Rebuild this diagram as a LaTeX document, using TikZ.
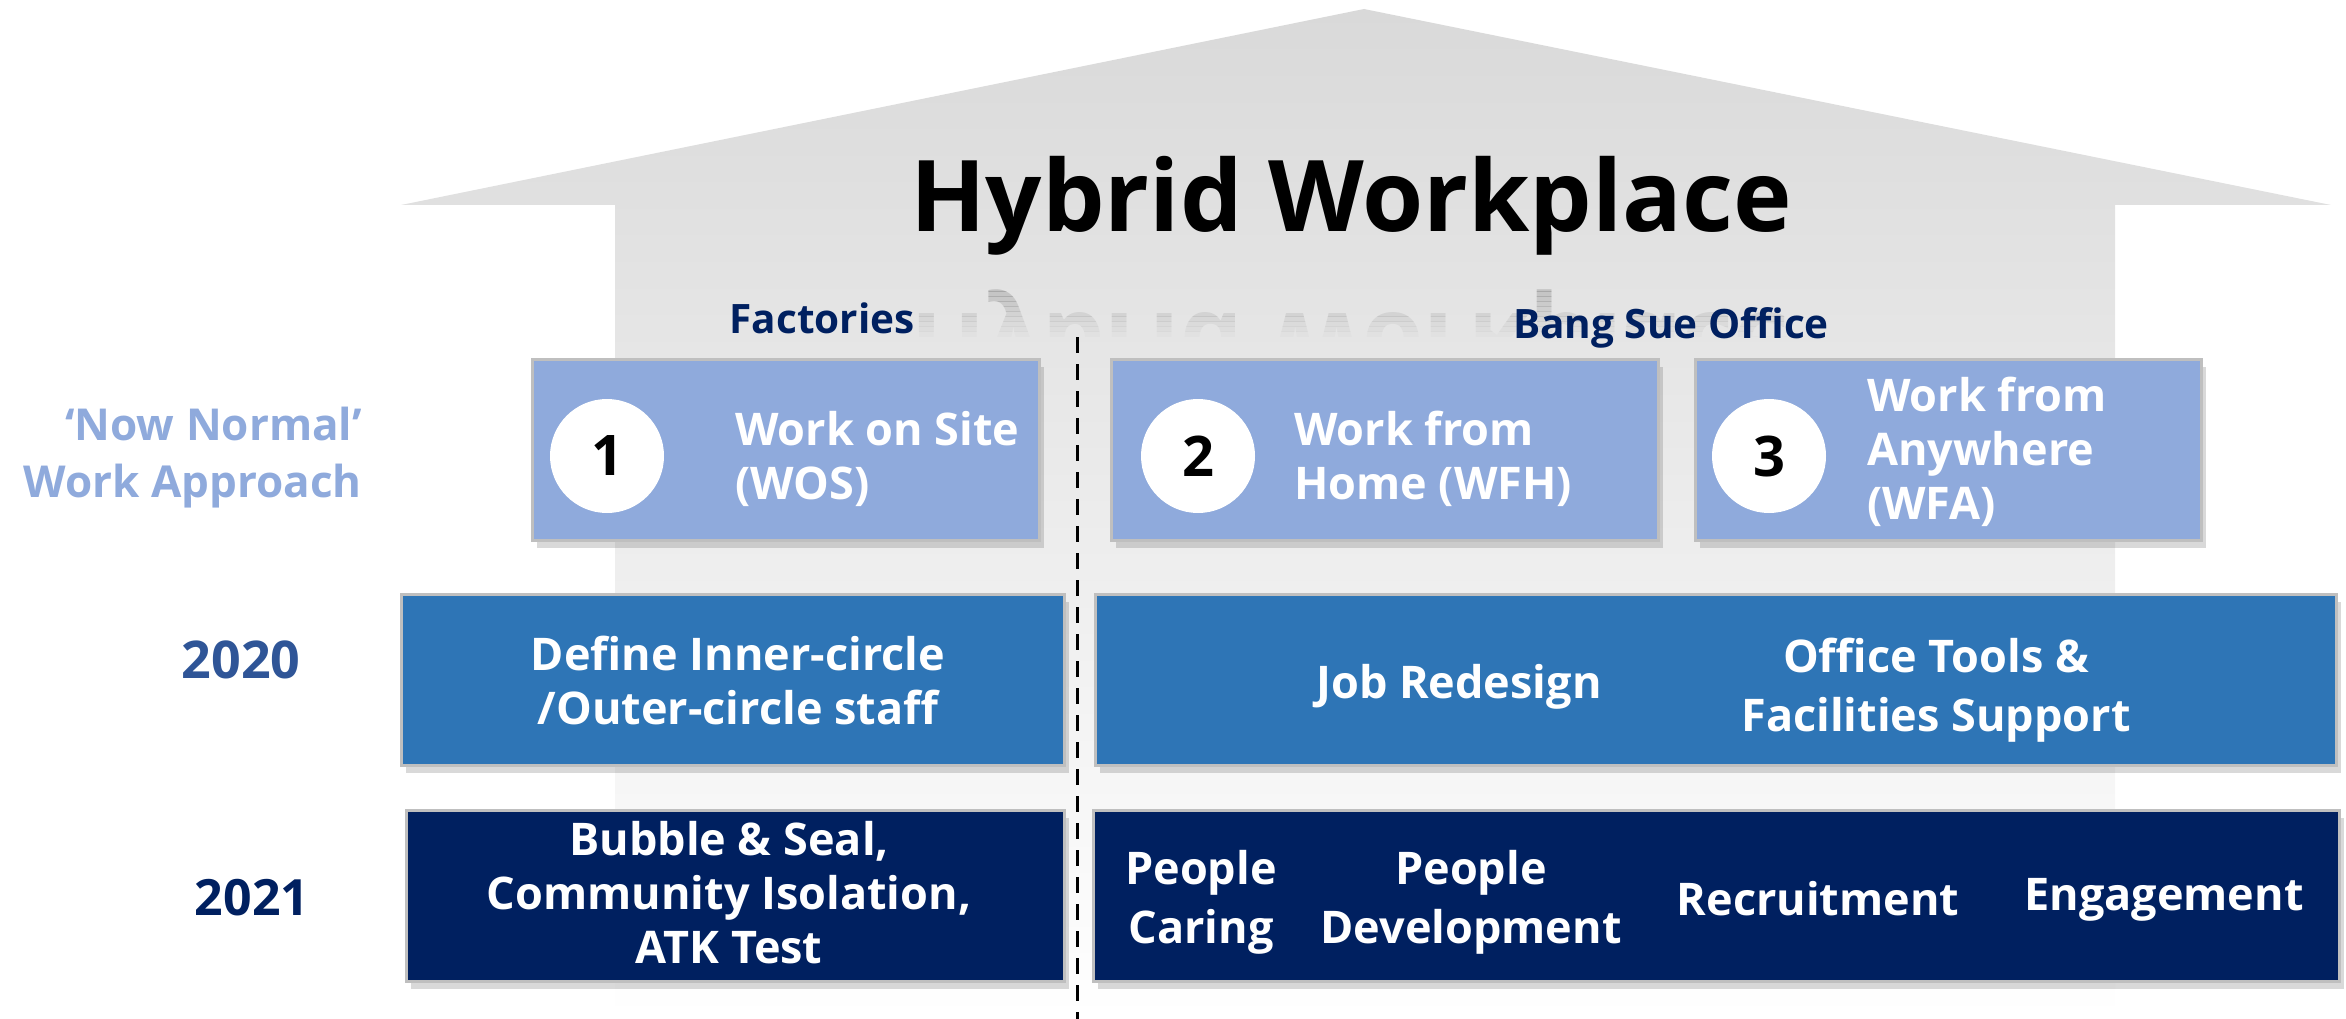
\documentclass[tikz,border=0pt]{standalone}
\usepackage{fontspec}
\setmainfont{Open Sans}
\usetikzlibrary{shadows}
\definecolor{lightblue}{HTML}{8FAADC}
\definecolor{midblue}{HTML}{2E75B6}
\definecolor{navy}{HTML}{002060}
\definecolor{yearblue}{HTML}{2F5597}
\definecolor{roofgray}{HTML}{D9D9D9}
\definecolor{boxedge}{HTML}{BFBFBF}
\tikzset{
  card/.style={rectangle, draw=boxedge, line width=3pt, inner sep=0pt, anchor=north west,
    drop shadow={shadow xshift=4pt, shadow yshift=-7pt, opacity=0.25, fill=black!60}},
  numdisc/.style={circle, fill=white, minimum size=114pt, inner sep=0pt,
    font=\fontsize{56}{60}\selectfont\bfseries, text=black},
  boxtext/.style={text=white, font=\fontsize{45}{54}\selectfont\bfseries, inner sep=0pt},
  boxtextwide/.style={text=white, font=\fontsize{45}{59}\selectfont\bfseries, inner sep=0pt},
  sitelabel/.style={text=navy, font=\fontsize{40.5}{44}\selectfont\bfseries, inner sep=0pt, anchor=base},
  titletext/.style={font=\fontsize{99}{110}\selectfont\bfseries, inner sep=0pt, anchor=base},
  sepline/.style={line width=3pt, dash pattern=on 16pt off 11pt}
}
\begin{document}
\begin{tikzpicture}[x=1pt,y=-1pt]
\useasboundingbox (0,0) rectangle (2346,1019);
% house
\path[top color=roofgray, bottom color=white]
  (1364,9) -- (2331,205) -- (2115,205) -- (2115,1019) -- (615,1019) -- (615,205) -- (401,205) -- cycle;
% faded reflection of the title
\foreach \i in {0,...,9} {
  \pgfmathsetmacro\op{0.15*(1-\i/10)}
  \begin{scope}
    \clip (600,{286+\i*5}) rectangle (2120,{291+\i*5});
    \node[titletext, text=black, opacity=\op, yscale=-1] (refl\i) at (1351,313) {Hybrid Workplace};
  \end{scope}
}
% title
\node[titletext, text=black] (title) at (1351,232) {Hybrid Workplace};
\node[sitelabel] (fact) at (822,333) {Factories};
\node[sitelabel] (bso) at (1671,338) {Bang Sue Office};
% separator
\coordinate (dtop) at (1077,337);
\coordinate (dbot) at (1077,1019);
\draw[sepline] (dtop) -- (dbot);
% left labels
\node[text=lightblue, font=\fontsize{44}{57}\selectfont\bfseries, align=right, anchor=east, inner sep=0pt] (nn) at (362,458) {‘Now Normal’\\Work Approach};
\node[text=yearblue, font=\fontsize{52}{56}\selectfont\bfseries, inner sep=0pt, anchor=base] (y2020) at (241,678) {2020};
\node[text=navy, font=\fontsize{50}{56}\selectfont\bfseries, inner sep=0pt, anchor=base] (y2021) at (252,915) {2021};
% top row
\node[card, fill=lightblue, minimum width=507pt, minimum height=181pt] (wos) at (531,358) {};
\node[card, fill=lightblue, minimum width=547pt, minimum height=181pt] (wfh) at (1110,358) {};
\node[card, fill=lightblue, minimum width=506pt, minimum height=181pt] (wfa) at (1694,358) {};
\node[numdisc] (n1) at (607,456) {1};
\node[numdisc] (n2) at (1198,456) {2};
\node[numdisc] (n3) at (1769,456) {3};
\node[boxtext, align=left, anchor=west] (t1) at (735,459) {Work on Site\\(WOS)};
\node[boxtext, align=left, anchor=west] (t2) at (1294,459) {Work from\\Home (WFH)};
\node[boxtext, align=left, anchor=west] (t3) at (1867,452) {Work from\\Anywhere\\(WFA)};
% 2020 row
\node[card, fill=midblue, minimum width=663pt, minimum height=171pt] (r20a) at (400,593) {};
\node[card, fill=midblue, minimum width=1241pt, minimum height=171pt] (r20b) at (1094,593) {};
\node[boxtext, align=center] (s1) at (738,680) {Define Inner-circle\\/Outer-circle staff};
\node[boxtext, anchor=base] (s2) at (1459,698) {Job Redesign};
\node[boxtextwide, align=center] (s3) at (1936,690) {Office Tools \&\\Facilities Support};
% 2021 row
\node[card, fill=navy, minimum width=658pt, minimum height=171pt] (r21a) at (405,809) {};
\node[card, fill=navy, minimum width=1246pt, minimum height=171pt] (r21b) at (1092,809) {};
\node[boxtext, align=center] (u1) at (729,893) {Bubble \& Seal,\\Community Isolation,\\ATK Test};
\node[boxtextwide, align=center] (u2) at (1201,902) {People\\Caring};
\node[boxtextwide, align=center] (u3) at (1471,902) {People\\Development};
\node[boxtext, anchor=base] (u4) at (1818,915) {Recruitment};
\node[boxtext, anchor=base] (u5) at (2164,910) {Engagement};
\end{tikzpicture}
\end{document}
